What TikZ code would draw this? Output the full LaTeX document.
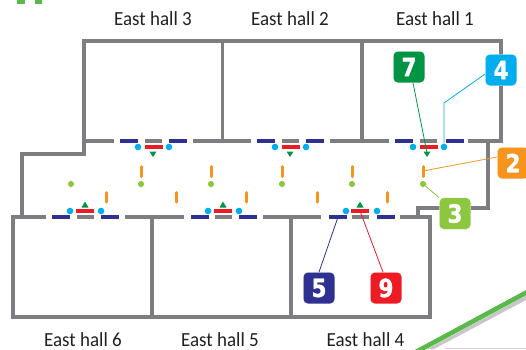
\documentclass[tikz,border=0pt]{standalone}
\usepackage{fontspec}
\setmainfont[FakeStretch=0.95]{Carlito}
\newfontfamily\digitfont[FakeStretch=0.86,BoldFeatures={FakeBold=1.2}]{DejaVu Sans}
\definecolor{wallc}{RGB}{125,126,130}
\definecolor{bluec}{RGB}{46,49,146}
\definecolor{redc}{RGB}{237,28,36}
\definecolor{cyanc}{RGB}{0,174,239}
\definecolor{greenc}{RGB}{0,148,68}
\definecolor{limec}{RGB}{141,198,63}
\definecolor{orangec}{RGB}{247,148,30}
\definecolor{bandc}{RGB}{90,185,75}
\definecolor{textc}{RGB}{35,31,32}
\tikzset{
  x=1pt,y=-1pt,
  wall/.style={draw=wallc,line width=3.2pt,line cap=butt,line join=miter},
  bluebar/.style={draw=bluec,line width=3.8pt},
  redbar/.style={draw=redc,line width=3.8pt},
  orangebar/.style={draw=orangec,line width=3pt,line cap=round},
  cyandot/.style={circle,fill=cyanc,inner sep=0,minimum size=6.6pt},
  limedot/.style={circle,fill=limec,inner sep=0,minimum size=6.2pt},
  triup/.style={fill=greenc},
  badge/.style={rounded corners=4.5pt,minimum size=31.5pt,inner sep=0,text=white,font=\digitfont\fontsize{25}{25}\selectfont\bfseries,draw=white,line width=0.3pt},
  hall/.style={font=\fontsize{20}{20}\selectfont,text=textc,inner sep=0,anchor=base},
  link/.style={line width=0.8pt}
}
\begin{document}
\begin{tikzpicture}
\useasboundingbox (0,0) rectangle (526,349);
% outline
\draw[wall] (114,141) -- (84,141) -- (84,154) -- (22,154) -- (22,217);
\draw[wall] (84,141) -- (84,41) -- (501,41) -- (501,141) -- (468,141);
\draw[wall] (46,217) -- (13,217) -- (13,317) -- (430,317) -- (430,217) -- (400,217);
\draw[wall] (418,217) -- (418,208) -- (488,208) -- (488,141);
\draw[wall] (222.5,41) -- (222.5,141);
\draw[wall] (362,41) -- (362,141);
\draw[wall] (152,217) -- (152,317);
\draw[wall] (291,217) -- (291,317);
% upper wall segments
\foreach \a/\b in {145/162,193/251,282/299,330/389,420/437}
  \draw[wall] (\a,141) -- (\b,141);
\foreach \a/\b in {120/138,169/187,257/275,306/324,395/413,446/464}
  \draw[bluebar] (\a,141) -- (\b,141);
\foreach \a in {145,282,420}
  \draw[redbar] (\a,147) -- (\a+18,147);
\foreach \x in {138,169,275,306,413}
  \node[cyandot] at (\x,147) {};
\foreach \x in {153,290,427}
  \fill[triup] (\x-3.5,151.5) -- (\x+3.5,151.5) -- (\x,157) -- cycle;
% lower wall segments
\foreach \a/\b in {77/94,125/184,215/232,263/321,352/369}
  \draw[wall] (\a,217) -- (\b,217);
\foreach \a/\b in {52/70,101/119,191/209,239/257,329/347,377/395}
  \draw[bluebar] (\a,217) -- (\b,217);
\foreach \a in {76,214,351}
  \draw[redbar] (\a,211) -- (\a+18,211);
\foreach \x in {70,101,208,239,346,377}
  \node[cyandot] at (\x,211) {};
\foreach \x in {85,223,360}
  \fill[triup] (\x-3.5,207.5) -- (\x+3.5,207.5) -- (\x,201.5) -- cycle;
% orange bars and lime dots
\foreach \x in {141,211,282,352,423}
  \draw[orangebar] (\x,166.5) -- (\x,176.5);
\foreach \x in {106,176,246.7,317,387}
  \draw[orangebar] (\x,192.5) -- (\x,202);
\foreach \x in {71,141,211,282,352}
  \node[limedot] at (\x,184) {};
\node[limedot] (d3) at (423,184) {};
% link ends
\node[cyandot] (d4) at (444,147) {};
\coordinate (bend4) at (444,103);
\coordinate (tri7) at (427,153);
\coordinate (or2) at (423,171);
\coordinate (bl5) at (338,217);
\coordinate (re9) at (360,211);
% badges
\node[badge,fill=greenc] (b7) at (409,67) {7};
\node[badge,fill=cyanc] (b4) at (501,70) {4};
\node[badge,fill=orangec] (b2) at (513,163) {2};
\node[badge,fill=limec] (b3) at (455,213.5) {3};
\node[badge,fill=bluec] (b5) at (319,288) {5};
\node[badge,fill=redc] (b9) at (386,288) {9};
\draw[link,greenc] (b7.south) ++(4,0) -- (tri7);
\draw[link,cyanc] (b4.west |- 0,74) -- (bend4) -- (d4);
\draw[link,orangec] (b2.west |- 0,157) -- (or2);
\draw[link,limec] (d3) -- (b3.north west);
\draw[link,bluec] (b5.north) -- (bl5);
\draw[link,redc] (b9.north) ++(-3,0) -- (re9);
% labels
\node[hall] (h3) at (153,25) {East hall 3};
\node[hall] (h2) at (290,25) {East hall 2};
\node[hall] (h1) at (435,25) {East hall 1};
\node[hall] (h6) at (83,346) {East hall 6};
\node[hall] (h5) at (220,346) {East hall 5};
\node[hall] (h4) at (365.5,346) {East hall 4};
% green band and marks
\draw[black!18] (445,348.5) -- (526,348.5);
\fill[black!22] (526,295.5) -- (427,349) -- (434,349) -- (526,300) -- cycle;
\draw[bandc,line width=4.6pt] (530,290.5) -- (414,353);
\fill[bandc] (17,0) rectangle (25,3.5);
\fill[bandc] (35,0) rectangle (42,3.5);
\end{tikzpicture}
\end{document}
